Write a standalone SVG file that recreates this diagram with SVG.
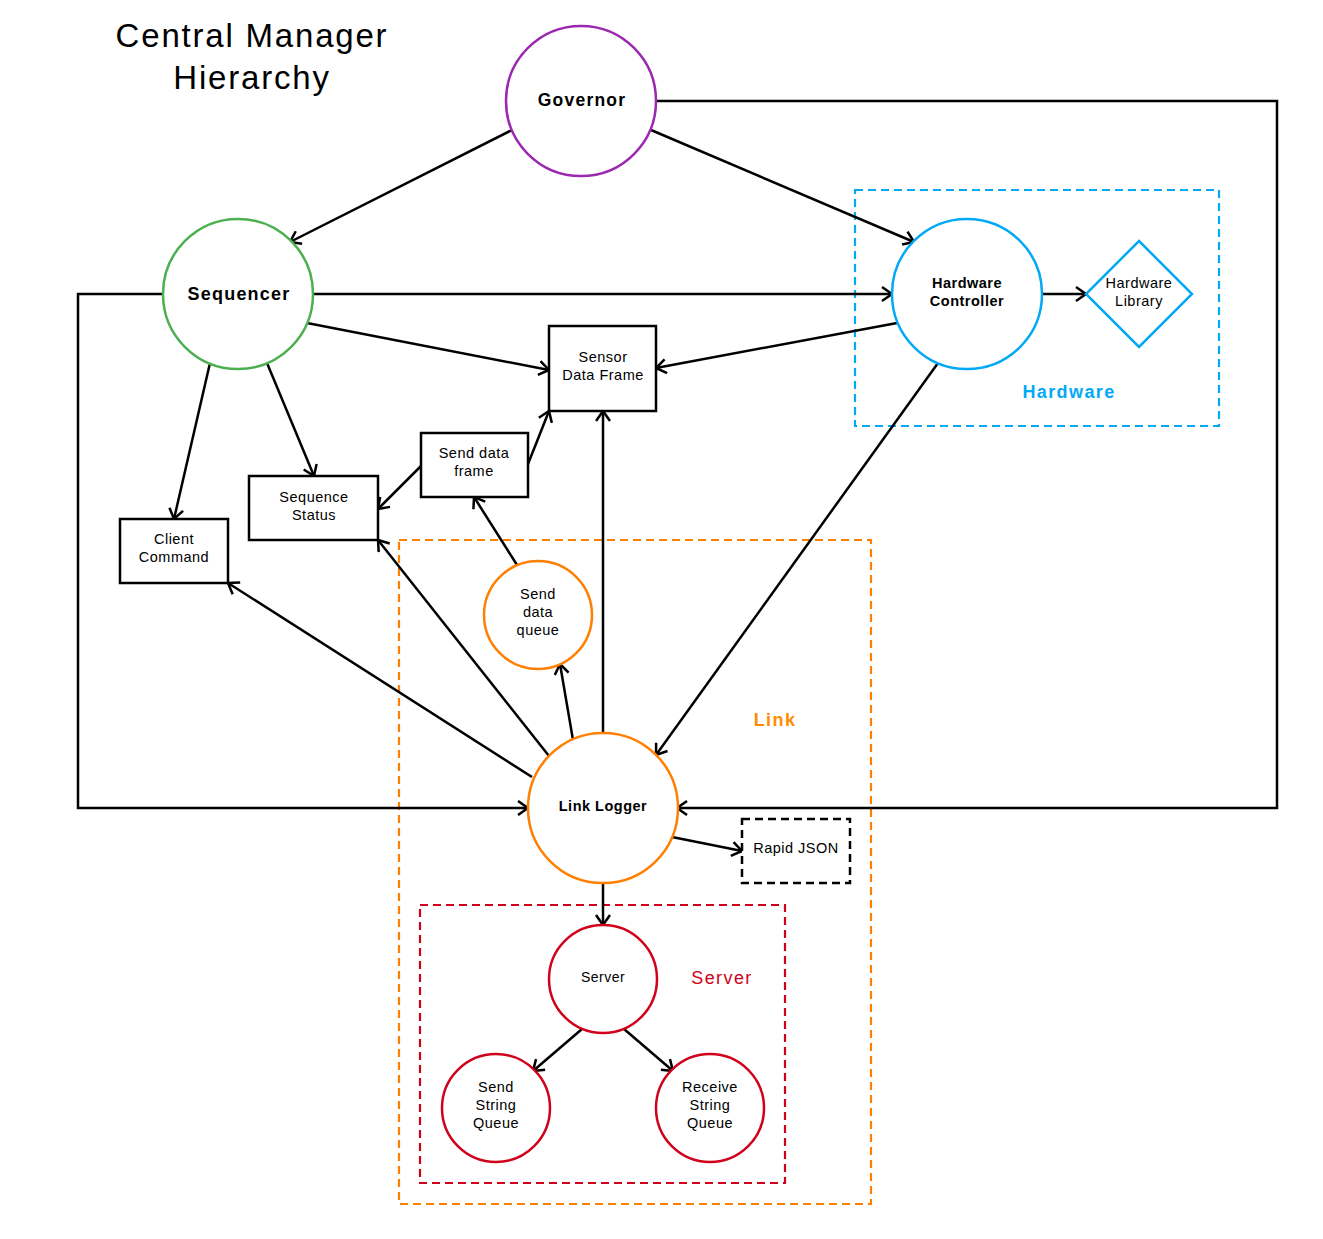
<svg xmlns="http://www.w3.org/2000/svg" width="1323" height="1239" viewBox="0 0 1323 1239">
<defs>
<marker id="arr" markerUnits="userSpaceOnUse" markerWidth="16" markerHeight="18" refX="11" refY="8" orient="auto">
<path d="M1,1 L11,8 L1,15" fill="none" stroke="#000" stroke-width="2.5"/>
</marker>
<style>
.t{font-family:"Liberation Sans",Arial,sans-serif;fill:#000;text-anchor:middle}
.lbl{font-size:14.5px;letter-spacing:0.5px}
.b{font-weight:bold}
.c{fill:#fff;stroke-width:2.5}
.box{fill:#fff;stroke:#000;stroke-width:2.5}
.grp{fill:none;stroke-width:2.2;stroke-dasharray:8,5}
.e{fill:none;stroke:#000;stroke-width:2.5}
.title{font-size:33px;letter-spacing:1.8px}
.glbl{font-size:18px;letter-spacing:1.4px}
</style>
</defs>
<rect width="1323" height="1239" fill="#fff"/>

<text class="t title" x="252" y="47">Central Manager</text>
<text class="t title" x="252" y="89">Hierarchy</text>

<g id="group-hardware">
<rect class="grp" x="855" y="190" width="364" height="236" stroke="#03A9F4"/>
<text class="t glbl" x="1069" y="398" style="fill:#03A9F4;font-weight:bold">Hardware</text>
</g>
<g id="group-link">
<rect class="grp" x="399" y="540" width="472" height="664" stroke="#FF7F00"/>
<text class="t glbl" x="775" y="726" style="fill:#FF8C00;font-weight:bold">Link</text>
</g>
<g id="group-server">
<rect class="grp" x="420" y="905" width="365" height="278" stroke="#D0021B"/>
<text class="t glbl" x="722" y="984" style="fill:#D0021B">Server</text>
</g>

<g id="connectors">
<path class="e" d="M512,130 L290,242" marker-end="url(#arr)"/>
<path class="e" d="M651,130 L914,242" marker-end="url(#arr)"/>
<path class="e" d="M656,101 L1277,101 L1277,808 L677,808" marker-end="url(#arr)"/>
<path class="e" d="M163,294 L78,294 L78,808 L528,808" marker-end="url(#arr)"/>
<path class="e" d="M313,294 L892,294" marker-end="url(#arr)"/>
<path class="e" d="M307,323 L549,370" marker-end="url(#arr)"/>
<path class="e" d="M897,323 L656,368" marker-end="url(#arr)"/>
<path class="e" d="M1042,294 L1086,294" marker-end="url(#arr)"/>
<path class="e" d="M938,363 L656,755" marker-end="url(#arr)"/>
<path class="e" d="M210,363 L174,519" marker-end="url(#arr)"/>
<path class="e" d="M267,363 L314,476" marker-end="url(#arr)"/>
<path class="e" d="M421,466 L378,509" marker-end="url(#arr)"/>
<path class="e" d="M528,464 L549,411" marker-end="url(#arr)"/>
<path class="e" d="M517,565 L474,497" marker-end="url(#arr)"/>
<path class="e" d="M573,740 L560,664" marker-end="url(#arr)"/>
<path class="e" d="M603,733 L603,411" marker-end="url(#arr)"/>
<path class="e" d="M549,756 L378,540" marker-end="url(#arr)"/>
<path class="e" d="M532,777 L228,583" marker-end="url(#arr)"/>
<path class="e" d="M672,837 L742,851" marker-end="url(#arr)"/>
<path class="e" d="M603,883 L603,925" marker-end="url(#arr)"/>
<path class="e" d="M582,1029 L533,1071" marker-end="url(#arr)"/>
<path class="e" d="M624,1029 L673,1071" marker-end="url(#arr)"/>
</g>

<g id="governor">
<circle class="c" cx="581" cy="101" r="75" stroke="#9C27B0"/>
<text class="t b" x="582" y="106" style="font-size:17.5px;letter-spacing:1.2px">Governor</text>
</g>
<g id="sequencer">
<circle class="c" cx="238" cy="294" r="75" stroke="#4CAF50"/>
<text class="t b" x="239" y="300" style="font-size:18px;letter-spacing:1.2px">Sequencer</text>
</g>
<g id="hardware-controller">
<circle class="c" cx="967" cy="294" r="75" stroke="#03A9F4"/>
<text class="t b lbl" x="967" y="288">Hardware</text>
<text class="t b lbl" x="967" y="306">Controller</text>
</g>
<g id="hardware-library">
<path d="M1139,241 L1192,294 L1139,347 L1086,294 Z" fill="#fff" stroke="#03A9F4" stroke-width="2.5"/>
<text class="t lbl" x="1139" y="288">Hardware</text>
<text class="t lbl" x="1139" y="306">Library</text>
</g>
<g id="sensor-data-frame">
<rect class="box" x="549" y="326" width="107" height="85"/>
<text class="t lbl" x="603" y="362">Sensor</text>
<text class="t lbl" x="603" y="380">Data Frame</text>
</g>
<g id="send-data-frame">
<rect class="box" x="421" y="433" width="107" height="64"/>
<text class="t lbl" x="474" y="458">Send data</text>
<text class="t lbl" x="474" y="476">frame</text>
</g>
<g id="sequence-status">
<rect class="box" x="249" y="476" width="129" height="64"/>
<text class="t lbl" x="314" y="502">Sequence</text>
<text class="t lbl" x="314" y="520">Status</text>
</g>
<g id="client-command">
<rect class="box" x="120" y="519" width="108" height="64"/>
<text class="t lbl" x="174" y="544">Client</text>
<text class="t lbl" x="174" y="562">Command</text>
</g>
<g id="send-data-queue">
<circle class="c" cx="538" cy="615" r="54" stroke="#FF7F00"/>
<text class="t lbl" x="538" y="599">Send</text>
<text class="t lbl" x="538" y="617">data</text>
<text class="t lbl" x="538" y="635">queue</text>
</g>
<g id="link-logger">
<circle class="c" cx="603" cy="808" r="75" stroke="#FF7F00"/>
<text class="t b lbl" x="603" y="811">Link Logger</text>
</g>
<g id="rapid-json">
<rect x="742" y="819" width="108" height="64" fill="#fff" stroke="#000" stroke-width="2.5" stroke-dasharray="8,5"/>
<text class="t lbl" x="796" y="853">Rapid JSON</text>
</g>
<g id="server">
<circle class="c" cx="603" cy="979" r="54" stroke="#D0021B"/>
<text class="t lbl" x="603" y="982" style="font-size:14px">Server</text>
</g>
<g id="send-string-queue">
<circle class="c" cx="496" cy="1108" r="54" stroke="#D0021B"/>
<text class="t lbl" x="496" y="1092">Send</text>
<text class="t lbl" x="496" y="1110">String</text>
<text class="t lbl" x="496" y="1128">Queue</text>
</g>
<g id="receive-string-queue">
<circle class="c" cx="710" cy="1108" r="54" stroke="#D0021B"/>
<text class="t lbl" x="710" y="1092">Receive</text>
<text class="t lbl" x="710" y="1110">String</text>
<text class="t lbl" x="710" y="1128">Queue</text>
</g>
</svg>
